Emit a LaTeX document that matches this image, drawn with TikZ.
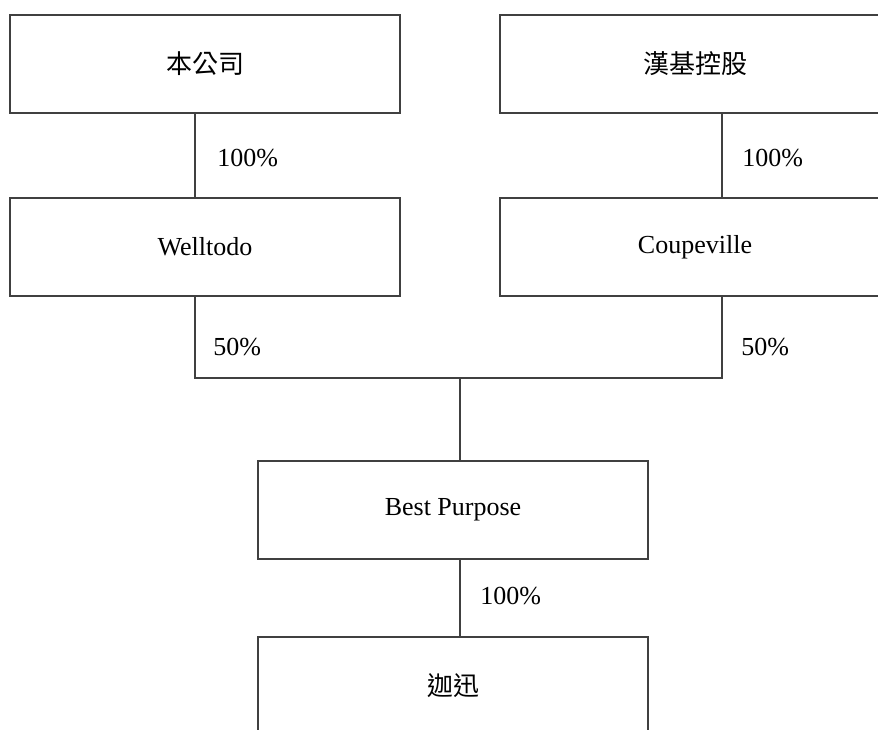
\documentclass[tikz,border=0pt]{standalone}
\usepackage{fontspec}
\setmainfont{Liberation Serif}
\newfontfamily\cjk{Noto Sans CJK TC}
\usepackage{tikz}
\usetikzlibrary{positioning}

\tikzset{
  firm/.style={draw=black!75, line width=0.6pt, rectangle, minimum width=195pt, minimum height=49pt, inner sep=0pt},
  share/.style={anchor=west, inner sep=0pt},
  link/.style={draw=black!75, line width=0.6pt},
}

\begin{document}
\begin{tikzpicture}[x=0.5pt, y=-0.5pt, font=\fontsize{13}{15}\selectfont]
    \useasboundingbox (0,0) rectangle (878,729);
    \clip (0,0) rectangle (878,729);

    % === Top row ===
    \node[firm] (Co) at (205,64) {\cjk 本公司};
    \node[firm] (HK) at (695,64) {\cjk 漢基控股};

    % === Second row ===
    \node[firm] (Welltodo) at (205,247) {Welltodo};
    \node[firm] (Coupeville) at (695,247) {Coupeville};

    % === Joint venture ===
    \node[firm] (Best) at (453,510) {Best Purpose};
    \node[firm] (Jiaxun) at (453,686) {\cjk 迦迅};

    % Links
    \draw[link] ([xshift=-5pt]Co.south) -- ([xshift=-5pt]Welltodo.north);
    \draw[link] ([xshift=13.5pt]HK.south) -- ([xshift=13.5pt]Coupeville.north);
    \coordinate (Join) at (460,378);
    \draw[link] ([xshift=-5pt]Welltodo.south) |- (Join) -| ([xshift=13.5pt]Coupeville.south);
    \draw[link] (Join) -- ([xshift=3.5pt]Best.north);
    \draw[link] ([xshift=3.5pt]Best.south) -- ([xshift=3.5pt]Jiaxun.north);

    % Shares
    \node[share] (s1) at (217,158) {100\%};
    \node[share] (s2) at (742,158) {100\%};
    \node[share] (s3) at (213,347) {50\%};
    \node[share] (s4) at (741,347) {50\%};
    \node[share] (s5) at (480,596) {100\%};

\end{tikzpicture}
\end{document}
